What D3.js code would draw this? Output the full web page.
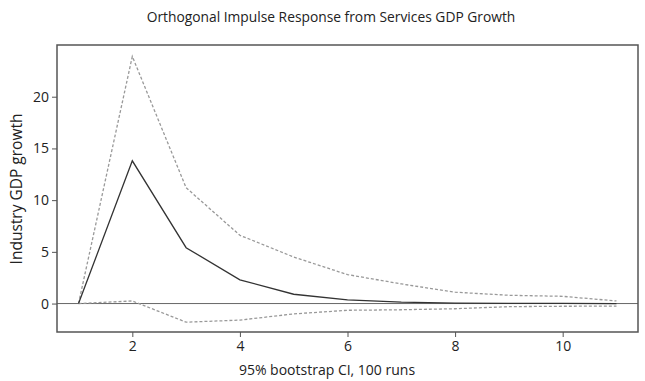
<!DOCTYPE html>
<meta charset="utf-8">
<head>
<style>
body { margin: 0; background: #fff; }
text { font-family: "Open Sans", "Noto Sans", sans-serif; fill: #222; }
.frame { fill: none; stroke: #555; stroke-width: 1.5; }
.zero { stroke: #666; stroke-width: 1; }
.irf { fill: none; stroke: #333; stroke-width: 1.3; }
.ci { fill: none; stroke: #999; stroke-width: 1.3; stroke-dasharray: 3,2; }
.tick line { stroke: #555; }
</style>
</head>
<body>
<svg width="645" height="381"></svg>
<script src="https://d3js.org/d3.v7.min.js"></script>
<script>

// horizon steps and the three series
var steps = [1, 2, 3, 4, 5, 6, 7, 8, 9, 10, 11];
var irf   = [0, 13.8, 5.4, 2.3, 0.9, 0.35, 0.13, 0.05, 0.02, 0.01, 0];
var upper = [0, 23.9, 11.2, 6.6, 4.5, 2.8, 1.9, 1.1, 0.8, 0.7, 0.25];
var lower = [0, 0.25, -1.8, -1.6, -1.0, -0.65, -0.6, -0.5, -0.3, -0.26, -0.25];
var xTicks = [2, 4, 6, 8, 10];
var yTicks = [0, 5, 10, 15, 20];

var svg = d3.select("svg"),
    margin = {top: 45, left: 57, right: 7, bottom: 49},
    width = +svg.attr("width") - margin.left - margin.right,
    height = +svg.attr("height") - margin.top - margin.bottom;

var g = svg.append("g").attr("transform", "translate(" + margin.left + "," + margin.top + ")");

var x = d3.scaleLinear().domain([0.6, 11.4]).range([0, width]);
var y = d3.scaleLinear().domain([-2.75, 25.0]).range([height, 0]);

g.append("line").attr("class", "zero")
    .attr("x1", 0).attr("x2", width)
    .attr("y1", y(0)).attr("y2", y(0));

function series(vals) {
  return d3.line()
    .x(function(d, i) { return x(steps[i]); })
    .y(function(d) { return y(d); })(vals);
}

g.append("path").attr("class", "ci").attr("d", series(upper));
g.append("path").attr("class", "ci").attr("d", series(lower));
g.append("path").attr("class", "irf").attr("d", series(irf));

g.append("rect").attr("class", "frame")
    .attr("width", width).attr("height", height);

var xa = g.append("g").attr("transform", "translate(0," + height + ")")
    .call(d3.axisBottom(x).tickValues(xTicks).tickSize(5).tickPadding(4));
var ya = g.append("g")
    .call(d3.axisLeft(y).tickValues(yTicks).tickSize(5).tickPadding(3));

[xa, ya].forEach(function(a) {
  a.select(".domain").remove();
  a.selectAll("text").style("font-size", "14px").style("font-family", null).attr("fill", "#222");
});

svg.append("text")
    .attr("x", 331).attr("y", 22)
    .attr("text-anchor", "middle").style("font-size", "13.8px")
    .text("Orthogonal Impulse Response from Services GDP Growth");

svg.append("text")
    .attr("x", 327).attr("y", 375)
    .attr("text-anchor", "middle").style("font-size", "14px")
    .text("95% bootstrap CI, 100 runs");

svg.append("text")
    .attr("transform", "translate(22," + 189 + ") rotate(-90)")
    .attr("text-anchor", "middle").style("font-size", "15.5px")
    .text("Industry GDP growth");

</script>
</body>
</html>
